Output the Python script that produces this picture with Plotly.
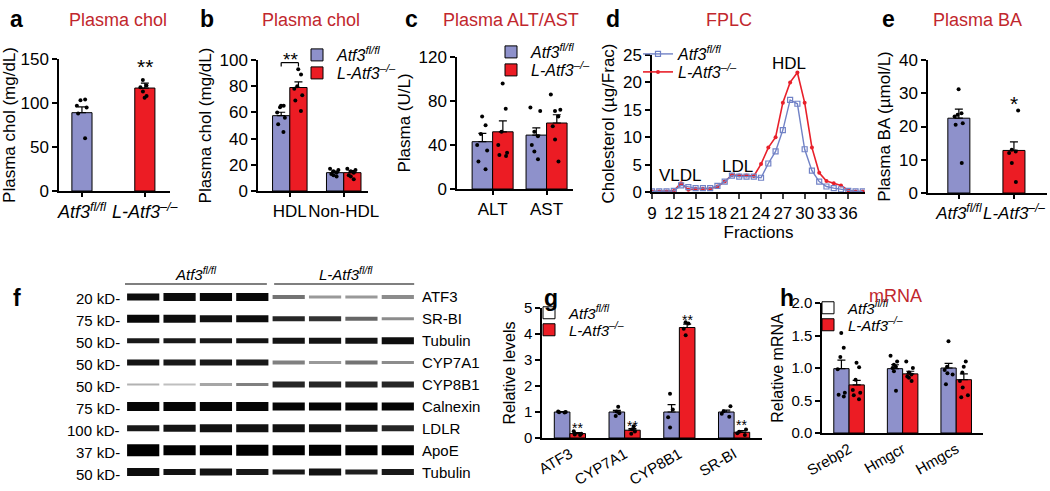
import plotly.graph_objects as go

W, H = 1050, 491
FONT = "Arial, Liberation Sans, sans-serif"
BLUE = "#8e91cb"
RED = "#ec1c24"
TITLE_RED = "#c1272d"
LINE_BLUE = "#7182c6"
LINE_RED = "#e8202a"

WT = "<i>Atf3</i><sup><i>fl/fl</i></sup>"
KO = "<i>L-Atf3</i><sup><i>–/–</i></sup>"
KO_FL = "<i>L-Atf3</i><sup><i>fl/fl</i></sup>"

# ---- a: plasma cholesterol
a_groups = [WT, KO]
a_mean = [89, 117]
a_sem = [6.5, 5.5]
a_pts = [[104, 103, 97, 95, 88, 60], [126, 120, 118, 113, 108, 106]]

# ---- b: HDL / non-HDL
b_cats = ["HDL", "Non-HDL"]
b_wt_mean = [57.5, 14]
b_wt_sem = [2.6, 1.2]
b_ko_mean = [79, 14]
b_ko_sem = [4.3, 1.6]
b_wt_pts = [[65, 65, 64, 60, 56, 51, 45], [17, 16, 15, 14, 13, 12, 11]]
b_ko_pts = [[93, 89, 80, 78, 73, 69, 61], [17, 16, 15, 14, 12, 11, 9]]

# ---- c: ALT / AST
c_cats = ["ALT", "AST"]
c_wt_mean = [43, 49]
c_wt_sem = [7.5, 6.5]
c_ko_mean = [52, 60]
c_ko_sem = [10, 7.5]
c_wt_pts = [[66, 58, 50, 40, 35, 25, 18], [74, 71, 52, 48, 40, 34, 27]]
c_ko_pts = [[96, 73, 52, 40, 33, 31, 30], [86, 72, 71, 66, 57, 45, 25]]

# ---- d: FPLC
fractions = [9, 10, 11, 12, 13, 14, 15, 16, 17, 18, 19, 20, 21, 22, 23,
             24, 25, 26, 27, 28, 29, 30, 31, 32, 33, 34, 35, 36, 37, 38]
d_wt = [0.1, 0.1, 0.1, 0.2, 1.2, 0.9, 0.7, 0.7, 0.7, 1.1, 1.9, 3.0, 2.8, 2.8, 2.8,
        2.6, 5.2, 7.4, 11.3, 16.8, 16.1, 7.8, 3.9, 1.9, 1.0, 0.7, 0.5, 0.2, 0.1, 0.1]
d_ko = [0.1, 0.1, 0.1, 0.2, 1.6, 0.4, 0.6, 0.6, 0.6, 1.0, 1.9, 3.1, 3.0, 3.0, 2.9,
        5.1, 8.1, 10.0, 16.3, 20.0, 21.8, 16.3, 8.1, 3.5, 2.0, 1.6, 1.2, 0.3, 0.1, 0.1]

# ---- e: plasma bile acids
e_groups = [WT, KO]
e_mean = [22.5, 12.8]
e_sem = [2.7, 2.6]
e_pts = [[31.2, 24, 23.5, 23, 21, 20.5, 9], [24.8, 13, 12.5, 12, 9, 3.3]]

# ---- f: western blot (8 lanes)
blot_lanes = [1, 2, 3, 4, 5, 6, 7, 8]
blot_rows = ["ATF3", "SR-BI", "Tubulin", "CYP7A1", "CYP8B1", "Calnexin", "LDLR", "ApoE", "Tubulin"]
blot_kd = ["20 kD-", "75 kD-", "50 kD-", "50 kD-", "50 kD-", "75 kD-", "100 kD-", "37 kD-", "50 kD-"]
band_density = [
    [0.95, 0.95, 0.97, 0.97, 0.55, 0.40, 0.40, 0.45],
    [0.97, 0.95, 0.93, 0.95, 0.85, 0.80, 0.60, 0.45],
    [0.90, 0.90, 0.90, 0.92, 0.92, 0.92, 0.92, 0.95],
    [0.92, 0.90, 0.90, 0.90, 0.50, 0.40, 0.55, 0.45],
    [0.30, 0.25, 0.35, 0.50, 0.85, 0.85, 0.85, 0.85],
    [0.98, 0.98, 0.98, 0.98, 0.98, 0.98, 0.98, 0.98],
    [0.90, 0.92, 0.93, 0.93, 0.93, 0.93, 0.90, 0.85],
    [1.00, 1.00, 1.00, 1.00, 1.00, 1.00, 1.00, 1.00],
    [0.95, 0.93, 0.93, 0.90, 0.90, 0.93, 0.88, 0.90],
]
band_thickness = [
    [7, 8, 8, 8, 4, 3, 3, 4],
    [8, 8, 7, 7, 5, 5, 4, 3],
    [5, 5, 5, 5, 6, 6, 6, 7],
    [6, 6, 6, 6, 4, 3, 4, 3],
    [2, 2, 3, 3, 6, 6, 6, 6],
    [9, 9, 9, 9, 8, 8, 8, 8],
    [6, 7, 8, 8, 8, 8, 7, 6],
    [12, 10, 10, 11, 10, 11, 10, 10],
    [8, 6, 7, 6, 5, 7, 5, 6],
]

# ---- g: blot quantification
g_cats = ["ATF3", "CYP7A1", "CYP8B1", "SR-BI"]
g_wt_mean = [1.0, 1.0, 1.0, 1.0]
g_wt_sem = [0.02, 0.06, 0.28, 0.07]
g_ko_mean = [0.17, 0.3, 4.25, 0.22]
g_ko_sem = [0.04, 0.06, 0.13, 0.06]
g_wt_pts = [[1.02, 1.0, 0.99, 0.98], [1.2, 1.02, 0.95, 0.85], [1.7, 1.1, 0.8, 0.4], [1.22, 1.03, 0.93, 0.82]]
g_ko_pts = [[0.26, 0.16, 0.13, 0.12], [0.45, 0.34, 0.25, 0.16], [4.45, 4.4, 4.2, 3.95], [0.33, 0.24, 0.18, 0.12]]
g_star_y = [0.38, 0.46, 4.54, 0.5]

# ---- h: mRNA
h_cats = ["Srebp2", "Hmgcr", "Hmgcs"]
h_wt_mean = [0.99, 0.99, 1.0]
h_wt_sem = [0.13, 0.06, 0.07]
h_ko_mean = [0.74, 0.91, 0.82]
h_ko_sem = [0.07, 0.04, 0.09]
h_wt_pts = [[1.54, 1.31, 1.17, 0.98, 0.62, 0.59, 0.56], [1.19, 1.1, 1.05, 1.02, 1.0, 0.95, 0.65],
            [1.41, 1.02, 0.97, 0.92, 0.9, 0.75]]
h_ko_pts = [[1.08, 1.01, 0.82, 0.66, 0.62, 0.58, 0.52], [1.1, 1.0, 0.93, 0.9, 0.87, 0.85, 0.8],
            [1.1, 1.02, 0.93, 0.8, 0.7, 0.58, 0.55]]


def px(x):
    return x / W


def py(y):
    return 1 - y / H


def err(sem):
    return dict(type="data", array=sem, arrayminus=[0] * len(sem), symmetric=False,
                color="black", thickness=1.2, width=4)


def dots(cats, pts, xa, ya, width, pos):
    xs, ys = [], []
    for c, p in zip(cats, pts):
        xs += [c] * len(p)
        ys += p
    return go.Box(x=xs, y=ys, xaxis=xa, yaxis=ya, width=width, boxpoints="all",
                  jitter=0.6, pointpos=pos, fillcolor="rgba(0,0,0,0)",
                  line=dict(width=0, color="rgba(0,0,0,0)"),
                  marker=dict(color="black", size=4), showlegend=False, hoverinfo="y")


def grouped(cats, wt_m, wt_s, ko_m, ko_s, wt_p, ko_p, xa, ya, w, legs, wt_legend=True):
    out = [
        go.Bar(x=cats, y=wt_m, width=w, offset=-w, name=WT, legend=legs[0],
               showlegend=wt_legend, marker=dict(color=BLUE, line=dict(color="black", width=1)),
               error_y=err(wt_s), xaxis=xa, yaxis=ya),
        go.Bar(x=cats, y=ko_m, width=w, offset=0, name=KO, legend=legs[1],
               marker=dict(color=RED, line=dict(color="black", width=1)),
               error_y=err(ko_s), xaxis=xa, yaxis=ya),
        dots(cats, wt_p, xa, ya, w, -1),
        dots(cats, ko_p, xa, ya, w, 1),
    ]
    return out


fig = go.Figure()

# a
fig.add_trace(go.Bar(x=a_groups, y=a_mean, width=0.32, offset=-0.16, showlegend=False,
                     marker=dict(color=[BLUE, RED], line=dict(color="black", width=1)),
                     error_y=err(a_sem), xaxis="x", yaxis="y"))
fig.add_trace(dots(a_groups, a_pts, "x", "y", 0.32, 0))

# b, c
for t in grouped(b_cats, b_wt_mean, b_wt_sem, b_ko_mean, b_ko_sem, b_wt_pts, b_ko_pts,
                 "x2", "y2", 0.32, ("legend", "legend2")):
    fig.add_trace(t)
for t in grouped(c_cats, c_wt_mean, c_wt_sem, c_ko_mean, c_ko_sem, c_wt_pts, c_ko_pts,
                 "x3", "y3", 0.38, ("legend3", "legend4")):
    fig.add_trace(t)

# d
fig.add_trace(go.Scatter(x=fractions, y=d_ko, mode="lines+markers", name=KO, legend="legend6",
                         line=dict(color=LINE_RED, width=1.6),
                         marker=dict(symbol="circle", size=4, color=LINE_RED),
                         xaxis="x4", yaxis="y4"))
fig.add_trace(go.Scatter(x=fractions, y=d_wt, mode="lines+markers", name=WT, legend="legend5",
                         line=dict(color=LINE_BLUE, width=1.4),
                         marker=dict(symbol="square-open", size=5, color=LINE_BLUE,
                                     line=dict(width=1.2)),
                         xaxis="x4", yaxis="y4"))

# e
fig.add_trace(go.Bar(x=e_groups, y=e_mean, width=0.4, offset=-0.2, showlegend=False,
                     marker=dict(color=[BLUE, RED], line=dict(color="black", width=1)),
                     error_y=err(e_sem), xaxis="x5", yaxis="y5"))
fig.add_trace(dots(e_groups, e_pts, "x5", "y5", 0.4, 0))

# f: blot bands (line-ew symbols are 1.4 x size long)
bx, by, bw, bc = [], [], [], []
for r, (dens, thick) in enumerate(zip(band_density, band_thickness)):
    for lane, dv, tv in zip(blot_lanes, dens, thick):
        g = int(round(255 * (1 - dv)))
        bx.append(lane)
        by.append(r)
        bw.append(tv)
        bc.append(f"rgb({g},{g},{g})")
fig.add_trace(go.Scatter(x=bx, y=by, mode="markers", showlegend=False, hoverinfo="skip",
                         marker=dict(symbol="line-ew", size=23, color=bc,
                                     line=dict(color=bc, width=bw)),
                         xaxis="x6", yaxis="y6"))

# g, h (legend uses open squares for control)
for leg, xa, ya in [("legend7", "x7", "y7"), ("legend9", "x8", "y8")]:
    fig.add_trace(go.Bar(x=[None], y=[None], name=WT, legend=leg,
                         marker=dict(color="white", line=dict(color="black", width=1)),
                         xaxis=xa, yaxis=ya))
for t in grouped(g_cats, g_wt_mean, g_wt_sem, g_ko_mean, g_ko_sem, g_wt_pts, g_ko_pts,
                 "x7", "y7", 0.285, ("legend7", "legend8"), wt_legend=False):
    fig.add_trace(t)
for t in grouped(h_cats, h_wt_mean, h_wt_sem, h_ko_mean, h_ko_sem, h_wt_pts, h_ko_pts,
                 "x8", "y8", 0.285, ("legend9", "legend10"), wt_legend=False):
    fig.add_trace(t)


def xcat(x0, x1, rng, anchor, size=18, ticks="outside", angle=0):
    return dict(domain=[px(x0), px(x1)], range=rng, type="category", anchor=anchor,
                showline=True, linecolor="black", linewidth=1.5, ticks=ticks, ticklen=4,
                tickwidth=1.5, tickcolor="black", showgrid=False, zeroline=False,
                tickangle=angle, tickfont=dict(size=size), automargin=False)


def ylin(top, bottom, rng, dtick, title, anchor, size=17, tsize=17, standoff=4, fmt=None):
    d = dict(domain=[py(bottom), py(top)], range=rng, dtick=dtick, anchor=anchor,
             showline=True, linecolor="black", linewidth=1.5, ticks="outside", ticklen=5,
             tickwidth=1.5, tickcolor="black", showgrid=False, zeroline=False,
             tickfont=dict(size=size), automargin=False,
             title=dict(text=title, font=dict(size=tsize), standoff=standoff))
    if fmt:
        d["tickformat"] = fmt
    return d


def legend_at(sx, sy, size=16):
    # sx, sy: pixel centre of the legend swatch
    return dict(x=px(sx - 20), y=py(sy), xanchor="left", yanchor="middle",
                bgcolor="rgba(0,0,0,0)", font=dict(size=size), itemwidth=30)


ann = []


def note(x, y, text, size=18, color="black"):
    ann.append(dict(x=px(x), y=py(y), xref="paper", yref="paper", text=text, showarrow=False,
                    xanchor="center", yanchor="middle", font=dict(size=size, color=color)))


for letter, x, y in [("a", 16, 19), ("b", 207, 19), ("c", 411, 19), ("d", 613, 19),
                     ("e", 888, 19), ("f", 17, 298), ("g", 551, 298), ("h", 787, 298)]:
    note(x, y, f"<b>{letter}</b>", size=23)
for text, x, y in [("Plasma chol", 118, 20), ("Plasma chol", 311, 20), ("Plasma ALT/AST", 511, 20),
                   ("FPLC", 729, 20), ("Plasma BA", 977, 20), ("mRNA", 895, 296)]:
    note(x, y, text, size=18, color=TITLE_RED)
for text, x, y in [("VLDL", 680, 175), ("LDL", 737, 166), ("HDL", 789, 63)]:
    note(x, y, text, size=17)
note(196, 273, "<i>Atf3</i><sup><i>fl/fl</i></sup>", size=15)
note(346, 273, KO_FL, size=15)
note(290, 59, "**", size=19)

# asterisks in data coordinates
ann.append(dict(x=KO, y=142, xref="x", yref="y", text="**", showarrow=False, font=dict(size=21)))
ann.append(dict(x=KO, y=27, xref="x5", yref="y5", text="*", showarrow=False, font=dict(size=21)))
for i, sy in enumerate(g_star_y):
    ann.append(dict(x=i + 0.1425, y=sy, xref="x7", yref="y7", text="**", showarrow=False,
                    font=dict(size=14)))

# blot labels
for r, (kd, name) in enumerate(zip(blot_kd, blot_rows)):
    ann.append(dict(x=0.5, y=r, xref="x6", yref="y6", text=kd, showarrow=False, xanchor="right",
                    xshift=-3, yshift=-2, font=dict(size=15)))
    ann.append(dict(x=8.5, y=r, xref="x6", yref="y6", text=name, showarrow=False, xanchor="left",
                    xshift=4, font=dict(size=15)))

shapes = [
    dict(type="line", xref="x6", yref="paper", x0=0.45, x1=4.4, y0=py(284), y1=py(284),
         line=dict(color="black", width=1.2)),
    dict(type="line", xref="x6", yref="paper", x0=4.6, x1=8.45, y0=py(284), y1=py(284),
         line=dict(color="black", width=1.2)),
]
for x0, x1, y0, y1 in [(-0.16, -0.16, 95, 98), (-0.16, 0.16, 98, 98), (0.16, 0.16, 98, 95)]:
    shapes.append(dict(type="line", xref="x2", yref="y2", x0=x0, x1=x1, y0=y0, y1=y1,
                       line=dict(color="black", width=1.2)))

fig.update_layout(
    template="none",
    width=W, height=H, margin=dict(l=0, r=0, t=0, b=0, autoexpand=False),
    paper_bgcolor="white", plot_bgcolor="white",
    font=dict(family=FONT, color="black"),
    barmode="overlay", boxmode="overlay",
    xaxis=xcat(59, 170, [-0.365, 1.40], "y"),
    yaxis=ylin(59, 191, [0, 150], 50, "Plasma chol (mg/dL)", "x"),
    xaxis2=xcat(258, 368, [-0.59, 1.45], "y2", size=17),
    yaxis2=ylin(60, 191, [0, 100], 20, "Plasma chol (mg/dL)", "x2"),
    xaxis3=xcat(457, 573, [-0.66, 1.49], "y3", size=17),
    yaxis3=ylin(57, 189, [0, 120], 40, "Plasma (U/L)", "x3"),
    xaxis4=dict(domain=[px(652), px(865)], range=[9, 38.3], tick0=9, dtick=3, anchor="y4",
                showline=True, linecolor="black", linewidth=1.5, ticks="outside", ticklen=5,
                tickwidth=1.5, showgrid=False, zeroline=False, tickfont=dict(size=17),
                automargin=False,
                title=dict(text="Fractions", font=dict(size=17), standoff=2)),
    yaxis4=ylin(55, 192, [0, 25], 5, "Cholesterol (µg/Frac)", "x4"),
    xaxis5=xcat(928, 1047, [-0.56, 1.60], "y5", size=17),
    yaxis5=ylin(60, 193, [0, 40], 10, "Plasma BA (µmol/L)", "x5"),
    xaxis6=dict(domain=[px(125), px(416)], range=[0.5, 8.5], anchor="y6", visible=False),
    yaxis6=dict(domain=[py(483), py(286)], range=[8.5, -0.5], anchor="x6", visible=False),
    xaxis7=xcat(542, 762, [-0.51, 3.51], "y7", size=15, ticks="", angle=-30),
    yaxis7=ylin(308, 438, [0, 5], 1, "Relative levels", "x7", size=15, tsize=16),
    xaxis8=xcat(822, 983, [-0.505, 2.5], "y8", size=15, ticks="", angle=-30),
    yaxis8=ylin(303, 433, [0, 2], 0.5, "Relative mRNA", "x8", size=15, tsize=16, fmt=".1f"),
    legend=legend_at(317, 55),
    legend2=legend_at(317, 73),
    legend3=legend_at(511, 52),
    legend4=legend_at(511, 70),
    legend5=legend_at(658, 54),
    legend6=legend_at(658, 72),
    legend7=legend_at(549, 313, 15),
    legend8=legend_at(549, 330, 15),
    legend9=legend_at(828, 308, 15),
    legend10=legend_at(828, 325, 15),
    annotations=ann,
    shapes=shapes,
)

# the page body has a default 8px margin; drop it so the figure sits at the window origin
fig.write_html("out.html", config={"displayModeBar": False},
               post_script="document.body.style.margin='0';")
